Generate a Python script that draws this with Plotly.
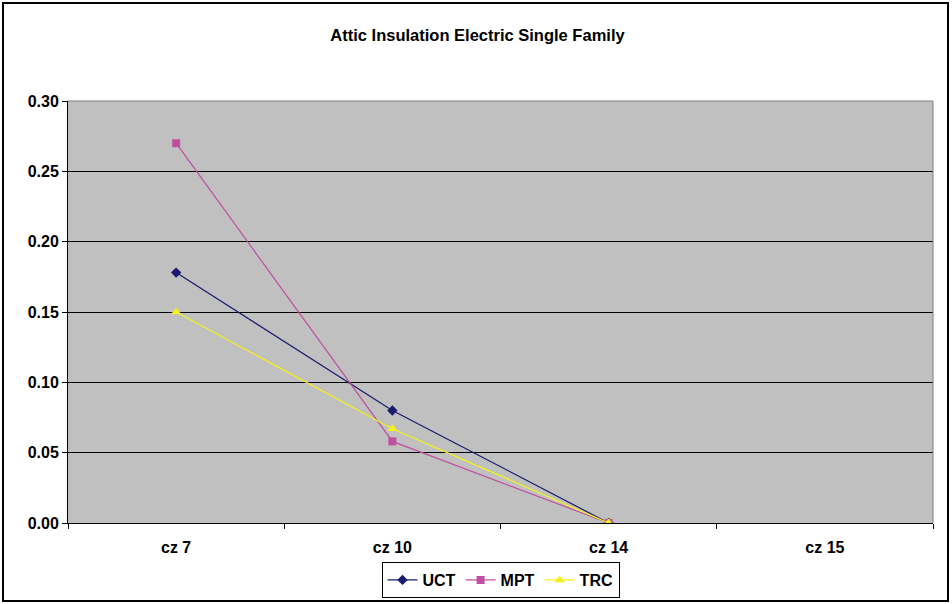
import plotly.graph_objects as go

# Climate zones and the three cost-test series
zones = ["cz 7", "cz 10", "cz 14", "cz 15"]
uct = [0.178, 0.080, 0.0, None]
mpt = [0.270, 0.058, 0.0, None]
trc = [0.150, 0.067, 0.0, None]
y_ticks = [0.00, 0.05, 0.10, 0.15, 0.20, 0.25, 0.30]

W, H = 952, 604
ML, MR, MT, MB = 68, 19, 101, 81
pw, ph = W - ML - MR, H - MT - MB

FAMILY = "Liberation Sans, Arial, sans-serif"
bold = dict(family=FAMILY, color="black", weight="bold")

fig = go.Figure()
fig.add_trace(go.Scatter(
    x=zones, y=uct, name="UCT", mode="lines+markers",
    line=dict(color="#1A1A6E", width=1.2),
    marker=dict(symbol="diamond", size=8, color="#1A1A6E"),
))
fig.add_trace(go.Scatter(
    x=zones, y=mpt, name="MPT", mode="lines+markers",
    line=dict(color="#C04FA2", width=1.2),
    marker=dict(symbol="square", size=8, color="#C04FA2"),
))
fig.add_trace(go.Scatter(
    x=zones, y=trc, name="TRC", mode="lines+markers",
    line=dict(color="#F2F21A", width=1.2),
    marker=dict(symbol="triangle-up", size=9, color="#F2F21A"),
))

# Outer chart frame in paper coordinates
x0 = -(ML - 3) / pw
x1 = 1 + (MR - 4) / pw
y0 = -(MB - 3) / ph
y1 = 1 + (MT - 3) / ph
fig.add_shape(type="rect", xref="paper", yref="paper",
              x0=x0, x1=x1, y0=y0, y1=y1,
              line=dict(color="black", width=2), layer="below")

fig.update_layout(
    width=W, height=H,
    margin=dict(l=ML, r=MR, t=MT, b=MB, autoexpand=False),
    paper_bgcolor="white",
    plot_bgcolor="#C0C0C0",
    font=dict(size=16, family=FAMILY, color="black"),
    title=dict(
        text="Attic Insulation Electric Single Family",
        x=(ML + pw / 2 - 23) / W, xanchor="center",
        y=1 - 35 / H, yanchor="middle", yref="container",
        font=dict(size=16.5, **bold),
    ),
    showlegend=True,
    legend=dict(
        orientation="h", x=0.5, xanchor="center",
        yref="container", y=(H - 562) / H, yanchor="top",
        bordercolor="black", borderwidth=1, bgcolor="white",
        font=dict(size=16, **bold),
        itemwidth=30, tracegroupgap=0,
    ),
)

fig.update_xaxes(
    type="category", categoryorder="array", categoryarray=zones,
    range=[-0.5, 3.5],
    tickson="boundaries", ticks="outside", ticklen=5, tickcolor="black",
    showline=True, linecolor="black", linewidth=1, mirror=False,
    showgrid=False, zeroline=False, automargin=False,
    ticklabelstandoff=10,
    tickfont=dict(size=16, **bold),
)
fig.update_yaxes(
    range=[0, 0.3], tickvals=y_ticks, tickformat=".2f",
    ticks="outside", ticklen=5, tickcolor="black",
    showline=True, linecolor="black", linewidth=1,
    showgrid=True, gridcolor="black", gridwidth=1,
    zeroline=False, automargin=False,
    tickfont=dict(size=16, **bold),
)

# Grey border along the top and right of the plot area
fig.add_shape(type="line", xref="paper", yref="paper", x0=0, x1=1, y0=1, y1=1,
              line=dict(color="#808080", width=1))
fig.add_shape(type="line", xref="paper", yref="paper", x0=1, x1=1, y0=0, y1=1,
              line=dict(color="#808080", width=1))

fig.write_html("out.html")
